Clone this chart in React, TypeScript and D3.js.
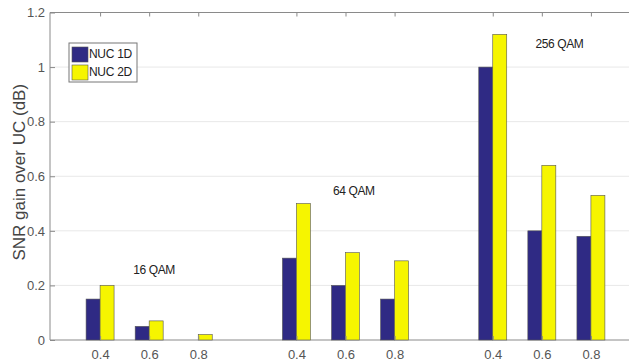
import React, { useEffect, useRef } from 'react';
import * as d3 from 'd3';

// tick labels along the x axis (blank slots separate the QAM groups)
const categories = ['0.4', '0.6', '0.8', '', '0.4', '0.6', '0.8', '', '0.4', '0.6', '0.8'];
const nuc1d = [0.15, 0.05, 0, 0, 0.3, 0.2, 0.15, 0, 1.0, 0.4, 0.38];
const nuc2d = [0.2, 0.07, 0.02, 0, 0.5, 0.32, 0.29, 0, 1.12, 0.64, 0.53];
const seriesNames = ['NUC 1D', 'NUC 2D'];
const yTicks = [0, 0.2, 0.4, 0.6, 0.8, 1, 1.2];
const groupLabels = ['16 QAM', '64 QAM', '256 QAM'];
const groupLabelPos = [2.1, 6.17, 10.36];
const groupLabelVal = [0.253, 0.543, 1.083];

const App = () => {
    const svgRef = useRef<SVGSVGElement>(null);

    useEffect(() => {
        const W = 629;
        const H = 362;
        const svg = d3.select(svgRef.current);
        svg.selectAll('*').remove();
        svg.attr('width', W).attr('height', H);

        const left = 50;
        const font = 'Liberation Sans, Arial, sans-serif';

        const x = d3.scaleLinear().domain([0, 12]).range([51, 640]);
        const y = d3.scaleLinear().domain([0, 1.2]).range([340, 12.5]);

        // grid lines
        svg.append('g')
            .selectAll('line')
            .data(yTicks.filter(d => d > 0 && d < 1.2))
            .enter()
            .append('line')
            .attr('x1', left)
            .attr('x2', W)
            .attr('y1', d => y(d))
            .attr('y2', d => y(d))
            .attr('stroke', '#e8e8e8')
            .attr('stroke-width', 1);

        // box lines
        svg.append('line').attr('x1', left).attr('x2', W).attr('y1', y(0)).attr('y2', y(0))
            .attr('stroke', '#8a8a8a');
        svg.append('line').attr('x1', left).attr('x2', W).attr('y1', y(1.2)).attr('y2', y(1.2))
            .attr('stroke', '#8a8a8a');
        svg.append('line').attr('x1', left).attr('x2', left).attr('y1', y(0)).attr('y2', y(1.2))
            .attr('stroke', '#8a8a8a');

        // bars
        const colors = ['#2f2a84', '#f6f500'];
        const barW = x(0.285) - x(0);
        [nuc1d, nuc2d].forEach((vals, s) => {
            svg.append('g')
                .selectAll('rect')
                .data(vals)
                .enter()
                .append('rect')
                .attr('x', (d, i) => x(i + 1) - barW + s * barW)
                .attr('y', d => y(d))
                .attr('width', barW)
                .attr('height', d => y(0) - y(d))
                .attr('fill', colors[s])
                .attr('stroke', '#555')
                .attr('stroke-width', 0.6);
        });

        // axes
        const tickPos = d3.range(1, categories.length + 1).filter(i => categories[i - 1] !== '');

        const yAxis = svg.append('g')
            .attr('transform', `translate(${left},0)`)
            .call(d3.axisLeft(y)
                .tickValues(yTicks)
                .tickSizeInner(-5)
                .tickSizeOuter(0)
                .tickPadding(5)
                .tickFormat(d => (d === 0 ? '0' : d === 1 ? '1' : (+d).toFixed(1))));

        const xAxis = svg.append('g')
            .attr('transform', `translate(0,${y(0)})`)
            .call(d3.axisBottom(x)
                .tickValues(tickPos)
                .tickSizeInner(-4)
                .tickSizeOuter(0)
                .tickPadding(10)
                .tickFormat(d => categories[+d - 1]));

        const xTop = svg.append('g')
            .attr('transform', `translate(0,${y(1.2)})`)
            .call(d3.axisTop(x)
                .tickValues(tickPos)
                .tickSizeInner(-4)
                .tickSizeOuter(0)
                .tickFormat(() => ''));

        [yAxis, xAxis, xTop].forEach(g => {
            g.select('.domain').remove();
            g.selectAll('line').attr('stroke', '#8a8a8a');
            g.selectAll('text')
                .attr('fill', '#555')
                .attr('font-family', font)
                .attr('font-size', 13);
        });

        // y label
        svg.append('text')
            .attr('transform', `translate(21,${(y(0) + y(1.2)) / 2 - 4}) rotate(-90)`)
            .attr('text-anchor', 'middle')
            .attr('dominant-baseline', 'middle')
            .attr('font-family', font)
            .attr('font-size', 17)
            .attr('fill', '#444')
            .text('SNR gain over UC (dB)');

        // group annotations
        svg.append('g')
            .selectAll('text')
            .data(groupLabels)
            .enter()
            .append('text')
            .attr('x', (d, i) => x(groupLabelPos[i]))
            .attr('y', (d, i) => y(groupLabelVal[i]))
            .attr('text-anchor', 'middle')
            .attr('dominant-baseline', 'middle')
            .attr('font-family', font)
            .attr('font-size', 12)
            .attr('letter-spacing', -0.4)
            .attr('fill', '#222')
            .text(d => d);

        // legend
        const lg = svg.append('g').attr('transform', 'translate(69,43)');
        lg.append('rect')
            .attr('width', 68).attr('height', 39)
            .attr('fill', '#fff').attr('stroke', '#777').attr('stroke-width', 1);
        seriesNames.forEach((name, i) => {
            lg.append('rect')
                .attr('x', 3).attr('y', 4 + i * 18)
                .attr('width', 16).attr('height', 15)
                .attr('fill', colors[i]).attr('stroke', '#555').attr('stroke-width', 0.6);
            lg.append('text')
                .attr('x', 20).attr('y', 11.5 + i * 18)
                .attr('dominant-baseline', 'middle')
                .attr('font-family', font)
                .attr('font-size', 12)
                .attr('letter-spacing', -0.3)
                .attr('fill', '#222')
                .text(name);
        });
    }, []);

    return (
        <svg ref={svgRef} style={{ position: 'absolute', left: 0, top: 0, background: '#fff' }}></svg>
    );
};

export default App;
